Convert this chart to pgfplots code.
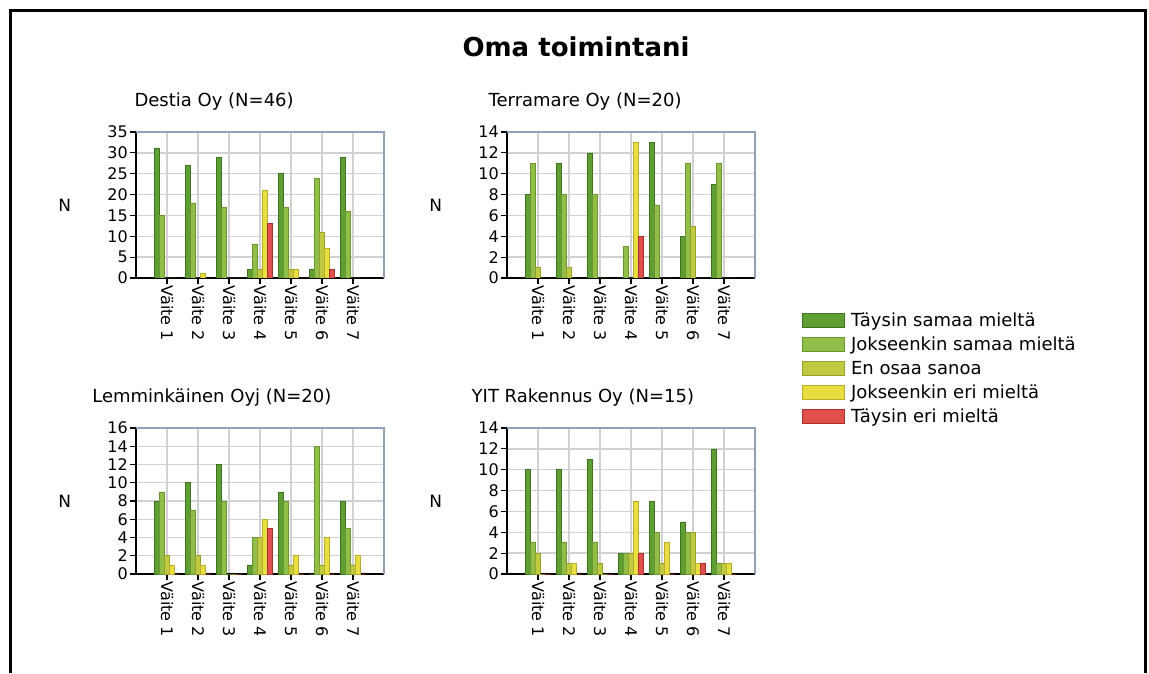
\documentclass[border=0pt]{standalone}
\usepackage{fontspec}
\setmainfont{DejaVu Sans}
\usepackage{pgfplots}
\usepackage{pgfplotstable}
\pgfplotsset{compat=1.18}

\definecolor{cT}{HTML}{5E9E32}
\definecolor{cJ}{HTML}{90BE48}
\definecolor{cE}{HTML}{C0CA40}
\definecolor{cJe}{HTML}{E8DE40}
\definecolor{cTe}{HTML}{E0504A}
\definecolor{dT}{HTML}{3E7420}
\definecolor{dJ}{HTML}{6A9630}
\definecolor{dE}{HTML}{98A02C}
\definecolor{dJe}{HTML}{B8AE2C}
\definecolor{dTe}{HTML}{A83030}
\definecolor{topc}{HTML}{8FA2B6}

\newcommand\tickfont{\fontsize{16}{19}\selectfont}
\newcommand\subfont{\fontsize{18}{21}\selectfont}

\pgfplotstableread{
c T J E Je Te
1 31 15 0 0 0
2 27 18 0 1 0
3 29 17 0 0 0
4 2 8 2 21 13
5 25 17 2 2 0
6 2 24 11 7 2
7 29 16 0 0 0
}\destia
\pgfplotstableread{
c T J E Je Te
1 8 11 1 0 0
2 11 8 1 0 0
3 12 8 0 0 0
4 0 3 0 13 4
5 13 7 0 0 0
6 4 11 5 0 0
7 9 11 0 0 0
}\terramare
\pgfplotstableread{
c T J E Je Te
1 8 9 2 1 0
2 10 7 2 1 0
3 12 8 0 0 0
4 1 4 4 6 5
5 9 8 1 2 0
6 0 14 1 4 0
7 8 5 1 2 0
}\lemminkainen
\pgfplotstableread{
c T J E Je Te
1 10 3 2 0 0
2 10 3 1 1 0
3 11 3 1 0 0
4 2 2 2 7 2
5 7 4 1 3 0
6 5 4 4 1 1
7 12 1 1 1 0
}\yit

\pgfplotsset{
  panel/.style={
    scale only axis, width=248pt, height=146pt,
    xmin=0, xmax=8, ymin=0,
    xtick={1,2,3,4,5,6,7},
    xticklabels={Väite 1,Väite 2,Väite 3,Väite 4,Väite 5,Väite 6,Väite 7},
    xticklabel style={rotate=-90, anchor=west, font=\tickfont, inner sep=1.5pt},
    yticklabel style={font=\tickfont, inner sep=2pt},
    /pgf/number format/assume math mode=true,
    axis x line*=bottom, axis y line*=left,
    axis line style={black, line width=1.6pt, -},
    tick style={black, line width=1.2pt}, tick align=outside, major tick length=6pt,
    grid=major, major grid style={draw=black!18, line width=1.3pt},
    ybar=0pt, bar width=5pt,
    ylabel={N},
    every axis y label/.style={at={(axis description cs:-0.287,0.5)}, anchor=center, font=\fontsize{17}{20}\selectfont},
    title style={font=\subfont, anchor=center},
    after end axis/.code={\draw[draw=topc, line width=2pt] (rel axis cs:0,1) -- (rel axis cs:1,1) -- (rel axis cs:1,0);},
    legend image code/.code={\draw[##1, bar shift=0pt] (0pt,-7pt) rectangle (42pt,7pt);},
  },
  sT/.style={fill=cT, draw=dT, line width=0.7pt},
  sJ/.style={fill=cJ, draw=dJ, line width=0.7pt},
  sE/.style={fill=cE, draw=dE, line width=0.7pt},
  sJe/.style={fill=cJe, draw=dJe, line width=0.7pt},
  sTe/.style={fill=cTe, draw=dTe, line width=0.7pt},
}

\begin{document}
\begin{tikzpicture}[x=1pt,y=1pt]
\useasboundingbox (0pt,0pt) rectangle (1149pt,673pt);
\draw[line width=3pt] (10pt,0pt) -- (10pt,662pt) -- (1145.5pt,662pt) -- (1145.5pt,0pt);
\node[font=\bfseries\fontsize{26}{30}\selectfont] at (576pt,626pt) {Oma toimintani};

% Destia
\begin{axis}[panel, at={(136pt,395pt)}, anchor=south west, ymax=35, ytick={0,5,...,35},
  title={Destia Oy (N=46)}, title style={at={(axis description cs:0.315,1.165)}}]
\addplot[sT] table[x=c,y=T] {\destia};
\addplot[sJ] table[x=c,y=J] {\destia};
\addplot[sE] table[x=c,y=E] {\destia};
\addplot[sJe] table[x=c,y=Je] {\destia};
\addplot[sTe] table[x=c,y=Te] {\destia};
\end{axis}

% Terramare
\begin{axis}[panel, at={(507pt,395pt)}, anchor=south west, ymax=14, ytick={0,2,...,14},
  title={Terramare Oy (N=20)}, title style={at={(axis description cs:0.315,1.165)}},
  legend style={at={(axis description cs:1.19,-0.235)}, anchor=north west, draw=none, fill=none,
    inner sep=0pt, font=\subfont, row sep=9pt, column sep=6pt,
    nodes={inner sep=0pt}},
  legend cell align=left]
\addplot[sT] table[x=c,y=T] {\terramare};
\addplot[sJ] table[x=c,y=J] {\terramare};
\addplot[sE] table[x=c,y=E] {\terramare};
\addplot[sJe] table[x=c,y=Je] {\terramare};
\addplot[sTe] table[x=c,y=Te] {\terramare};
\addlegendentry{Täysin samaa mieltä}
\addlegendentry{Jokseenkin samaa mieltä}
\addlegendentry{En osaa sanoa}
\addlegendentry{Jokseenkin eri mieltä}
\addlegendentry{Täysin eri mieltä}
\end{axis}

% Lemminkainen
\begin{axis}[panel, at={(136pt,99pt)}, anchor=south west, ymax=16, ytick={0,2,...,16},
  title={Lemminkäinen Oyj (N=20)}, title style={at={(axis description cs:0.306,1.165)}}]
\addplot[sT] table[x=c,y=T] {\lemminkainen};
\addplot[sJ] table[x=c,y=J] {\lemminkainen};
\addplot[sE] table[x=c,y=E] {\lemminkainen};
\addplot[sJe] table[x=c,y=Je] {\lemminkainen};
\addplot[sTe] table[x=c,y=Te] {\lemminkainen};
\end{axis}

% YIT
\begin{axis}[panel, at={(507pt,99pt)}, anchor=south west, ymax=14, ytick={0,2,...,14},
  title={YIT Rakennus Oy (N=15)}, title style={at={(axis description cs:0.306,1.165)}}]
\addplot[sT] table[x=c,y=T] {\yit};
\addplot[sJ] table[x=c,y=J] {\yit};
\addplot[sE] table[x=c,y=E] {\yit};
\addplot[sJe] table[x=c,y=Je] {\yit};
\addplot[sTe] table[x=c,y=Te] {\yit};
\end{axis}
\end{tikzpicture}
\end{document}
